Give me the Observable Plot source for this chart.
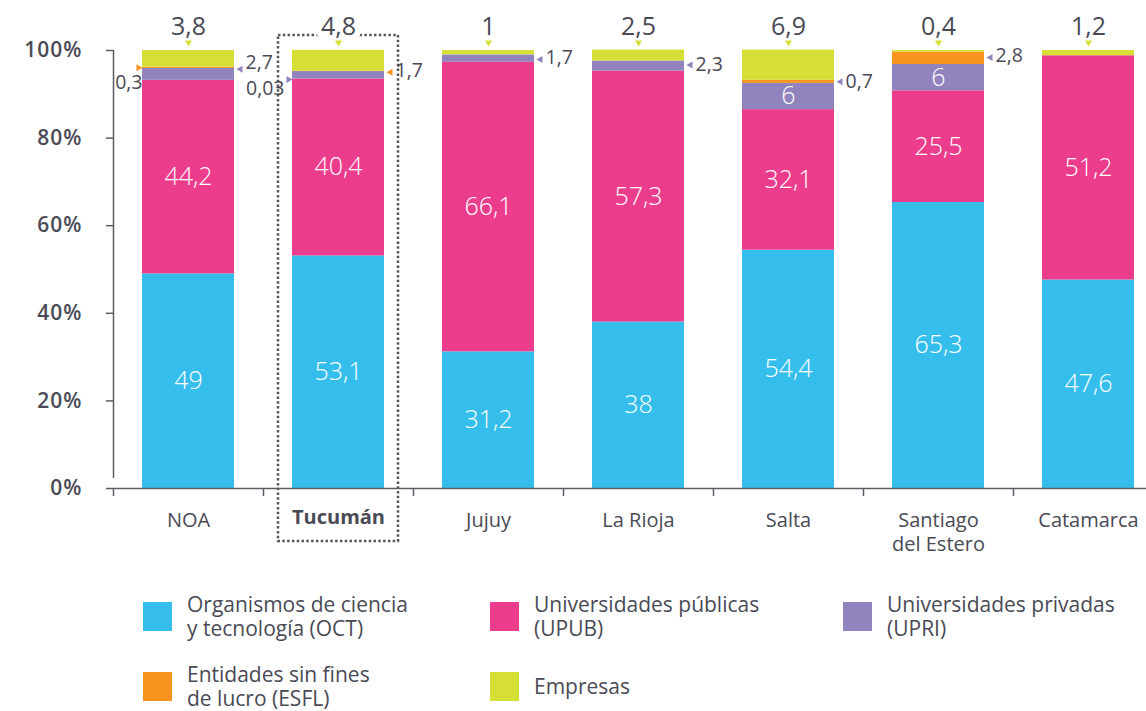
<!DOCTYPE html>
<html>
<head>
<meta charset="utf-8">
<script src="https://cdn.jsdelivr.net/npm/d3@7"></script>
<script src="https://cdn.jsdelivr.net/npm/@observablehq/plot@0.6"></script>
<style>
  body { margin: 0; background: #fff; font-family: "Open Sans", sans-serif; }
  #wrap { position: relative; width: 1146px; height: 711px; overflow: hidden; }
  #chart svg { display: block; }
  .leg { position: absolute; display: flex; align-items: center; height: 48px;
         font-size: 21px; line-height: 24px; color: #4a4a56; white-space: pre; }
  .sw { width: 29px; height: 29px; flex: none; margin-right: 15px; }
  g[aria-label="y-axis tick label"] text { letter-spacing: 1px; }
</style>
</head>
<body>
<div id="wrap"><div id="chart"></div></div>
<script>
// ---------------- data ----------------
const categories = ["NOA", "Tucumán", "Jujuy", "La Rioja", "Salta", "Santiago del Estero", "Catamarca"];
const highlight = "Tucumán";
const seriesKeys = ["OCT", "UPUB", "UPRI", "ESFL", "Empresas"];
const seriesColors = ["#35beec", "#ec3d8c", "#9183be", "#f7931e", "#d6df35"];
const legendLabels = [
  "Organismos de ciencia\ny tecnología (OCT)",
  "Universidades públicas\n(UPUB)",
  "Universidades privadas\n(UPRI)",
  "Entidades sin fines\nde lucro (ESFL)",
  "Empresas"
];
const oct      = [49,   53.1, 31.2, 38,   54.4, 65.3, 47.6];
const upub     = [44.2, 40.4, 66.1, 57.3, 32.1, 25.5, 51.2];
const upri     = [2.7,  1.7,  1.7,  2.3,  6,    6,    0];
const esfl     = [0.3,  0.03, 0,    0,    0.7,  2.8,  0];
const empresas = [3.8,  4.8,  1,    2.5,  6.9,  0.4,  1.2];
const yTicks = [0, 20, 40, 60, 80, 100];
// side annotations: category, series annotated, side, series whose colour the marker uses
const sideNotes = [
  {cat: "NOA", series: "ESFL", side: "left", marker: "ESFL"},
  {cat: "NOA", series: "UPRI", side: "right", marker: "UPRI"},
  {cat: "Tucumán", series: "ESFL", side: "left", marker: "UPRI"},
  {cat: "Tucumán", series: "UPRI", side: "right", marker: "ESFL"},
  {cat: "Jujuy", series: "UPRI", side: "right", marker: "UPRI"},
  {cat: "La Rioja", series: "UPRI", side: "right", marker: "UPRI"},
  {cat: "Salta", series: "ESFL", side: "right", marker: "UPRI"},
  {cat: "Santiago del Estero", series: "ESFL", side: "right", marker: "UPRI"}
];

// ---------------- styling ----------------
const textColor = "#4a4a56";
const axisColor = "#5c5c64";
const fmt = v => String(v).replace(".", ",");
const colorOf = Object.fromEntries(seriesKeys.map((k, i) => [k, seriesColors[i]]));
// pixel nudges for annotation placement
const noteStyle = {
  "NOA|ESFL":     {mdy: 0,  ldx: -46, ldy: 15},
  "NOA|UPRI":     {mdy: -5, ldy: -12},
  "Tucumán|ESFL": {mdy: 8,  ldx: -54, ldy: 17},
  "Tucumán|UPRI": {mdy: -3, ldy: -4},
  "Jujuy|UPRI":   {mdy: 1,  ldy: -1},
  "La Rioja|UPRI":{mdy: -1, ldy: -1},
  "Salta|ESFL":   {mdy: 0,  ldy: 0},
  "Santiago del Estero|ESFL": {mdy: -1, ldy: -3}
};

// ---------------- derived table ----------------
const valuesBySeries = {OCT: oct, UPUB: upub, UPRI: upri, ESFL: esfl, Empresas: empresas};
const rows = [];
categories.forEach((cat, i) => {
  let acc = 0;
  seriesKeys.forEach(s => {
    const v = valuesBySeries[s][i];
    rows.push({cat, series: s, value: v, y1: acc, y2: acc + v, mid: acc + v / 2, label: fmt(v)});
    acc += v;
  });
});
const bars = rows.filter(d => d.value > 0);
const inside = rows.filter(d => d.series === "OCT" || d.series === "UPUB" || (d.series === "UPRI" && d.value >= 5));
const tops = categories.map((cat, i) => ({cat, label: fmt(empresas[i])}));
const notes = sideNotes.map(n => {
  const r = rows.find(d => d.cat === n.cat && d.series === n.series);
  return {...n, mid: r.mid, label: r.label, color: colorOf[n.marker]};
});

const noteMarks = notes.flatMap(n => {
  const st = noteStyle[n.cat + "|" + n.series] || {};
  const left = n.side === "left";
  return [
    Plot.dot([n], {x: "cat", y: "mid", dx: left ? -50 : 52, dy: st.mdy || 0,
      symbol: "triangle", r: 2.6, rotate: left ? 90 : -90, fill: n.color, stroke: null}),
    Plot.text([n], {x: "cat", y: "mid", text: "label",
      dx: left ? (st.ldx ?? -50) : 57, dy: st.ldy || 0,
      textAnchor: left ? "end" : "start", fontSize: 19.5, fill: textColor})
  ];
});

const catText = d => d === "Santiago del Estero" ? "Santiago\ndel Estero" : d;

const chart = Plot.plot({
  width: 1146,
  height: 570,
  marginLeft: 113,
  marginRight: 0,
  marginTop: 50,
  marginBottom: 82,
  style: {fontFamily: "'Open Sans', sans-serif", color: textColor, background: "white", overflow: "visible"},
  x: {domain: categories, range: [113, 1163], paddingInner: 0.39, paddingOuter: 0.195, axis: null},
  y: {domain: [0, 100], axis: null},
  color: {domain: seriesKeys, range: seriesColors},
  marks: [
    // highlight box around Tucumán
    Plot.barY([highlight], {x: d => d, y1: 0, y2: 100, fill: "none", stroke: "#55555c",
      strokeWidth: 2.5, strokeDasharray: "2.5,2.3",
      insetLeft: -14, insetRight: -14, insetTop: -15, insetBottom: -53}),
    // stacked bars
    Plot.barY(bars, {x: "cat", y1: "y1", y2: "y2", fill: "series"}),
    // axes
    Plot.ruleY([0], {stroke: axisColor, strokeWidth: 1.5}),
    Plot.ruleX([categories[0]], {x: d => d, dx: -75, y1: 0, y2: 100, insetTop: -10, stroke: axisColor, strokeWidth: 1.5}),
    Plot.axisY({ticks: yTicks, tickFormat: d => d + "%", tickSize: 7, tickPadding: 24,
      fontSize: 21, fontWeight: 600, stroke: axisColor, strokeWidth: 1.5, fill: textColor}),
    Plot.axisX({tickSize: 8, fill: "none", dx: -75, stroke: axisColor, strokeWidth: 1.5}),
    // category labels
    Plot.text(categories.filter(c => c !== highlight), {x: d => d, text: catText, frameAnchor: "bottom",
      lineAnchor: "top", dy: 21, fontSize: 20, lineHeight: 1.22, fill: textColor}),
    Plot.text([highlight], {x: d => d, text: catText, frameAnchor: "bottom",
      lineAnchor: "top", dy: 21, fontSize: 20, fontWeight: 700, fill: textColor}),
    // values inside bars
    Plot.text(inside, {x: "cat", y: "mid", text: "label", fill: "white", fontSize: 25, fontWeight: 300}),
    // Empresas totals on top
    Plot.text(tops, {x: "cat", text: "label", frameAnchor: "top", lineAnchor: "middle", dy: -24, fontSize: 25,
      fill: textColor, stroke: "white", strokeWidth: 12, paintOrder: "stroke", strokeLinejoin: "round"}),
    Plot.dot(tops, {x: "cat", frameAnchor: "top", dy: -8, symbol: "triangle", r: 2.6, rotate: 180,
      fill: colorOf.Empresas, stroke: null}),
    ...noteMarks
  ]
});
document.getElementById("chart").append(chart);

// ---------------- legend ----------------
const legendCols = [143, 490, 843];
const legendRows = [592, 662];
const wrap = document.getElementById("wrap");
seriesKeys.forEach((k, i) => {
  const item = document.createElement("div");
  item.className = "leg";
  item.style.left = legendCols[i % 3] + "px";
  item.style.top = legendRows[Math.floor(i / 3)] + "px";
  const sw = document.createElement("div");
  sw.className = "sw";
  sw.style.background = seriesColors[i];
  const t = document.createElement("div");
  t.textContent = legendLabels[i];
  item.append(sw, t);
  wrap.append(item);
});
</script>
</body>
</html>
